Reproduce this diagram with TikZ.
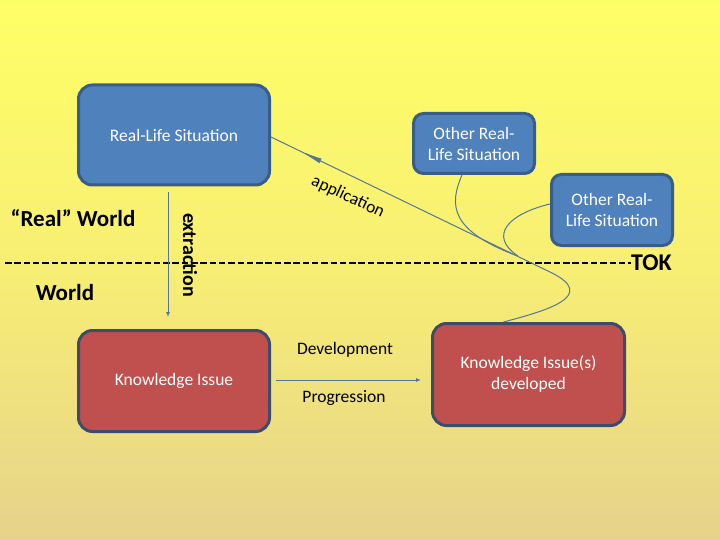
\documentclass[tikz,border=0pt]{standalone}
\usepackage{fontspec}
\setmainfont{Carlito}
\usetikzlibrary{arrows.meta,decorations.markings}
\definecolor{bgtop}{RGB}{255,255,102}
\definecolor{bgbot}{RGB}{230,210,140}
\definecolor{bluefill}{RGB}{79,129,189}
\definecolor{blueedge}{RGB}{56,93,138}
\definecolor{redfill}{RGB}{192,80,77}
\definecolor{rededge}{RGB}{62,76,108}
\definecolor{conn}{RGB}{84,118,152}
\tikzset{
  boxtext/.style={font=\fontsize{17.5}{21}\selectfont, text=white, align=center},
  bluebox/.style={boxtext, draw=blueedge, fill=bluefill, line width=3pt, rounded corners=14pt, inner sep=0pt},
  redbox/.style={boxtext, draw=rededge, fill=redfill, line width=3pt, rounded corners=14pt, inner sep=0pt},
  smallbox/.style={bluebox, rounded corners=10pt},
  label/.style={font=\fontsize{17.5}{21}\selectfont, text=black, inner sep=0pt},
  biglabel/.style={font=\bfseries\fontsize{23}{26}\selectfont, text=black, inner sep=0pt},
  connline/.style={draw=conn, line width=1pt},
  connarrow/.style={connline, -{Latex[length=5pt,width=4pt]}},
}
\begin{document}
\begin{tikzpicture}[x=1pt,y=-1pt]
\useasboundingbox (0,0) rectangle (720,540);
\shade[top color=bgtop, bottom color=bgbot, middle color={rgb,255:red,247;green,238;blue,116}] (0,0) rectangle (720,540);

% boxes
\node[bluebox, minimum width=191pt, minimum height=100pt] (rls) at (174,135) {Real-Life Situation};
\node[smallbox, minimum width=121pt, minimum height=60pt] (o1) at (474,143.5) {Other Real-\\Life Situation};
\node[smallbox, minimum width=121pt, minimum height=71pt] (o2) at (612,210) {Other Real-\\Life Situation};
\node[redbox, minimum width=191pt, minimum height=101pt] (ki) at (174,381) {Knowledge Issue};
\node[redbox, minimum width=192pt, minimum height=102pt] (kid) at (528.5,374.5) {Knowledge Issue(s)\\developed};

% dashed divider
\coordinate (dl) at (5,263);
\node[biglabel, font=\bfseries\fontsize{24}{26}\selectfont, anchor=west] (tok) at (631,263) {TOK};
\draw[black, line width=2.3pt, dash pattern=on 6.5pt off 2.8pt] (dl) -- (tok.west);

% world labels
\node[biglabel] (rw) at (73,218) {“Real” World};
\node[biglabel] (w) at (65,293) {World};

% extraction
\draw[connarrow, shorten <=6pt, shorten >=12pt] ([xshift=-6pt]rls.south) -- ([xshift=-6pt]ki.north);
\node[biglabel, font=\bfseries\fontsize{20}{24}\selectfont, rotate=-90] (ex) at (190,255) {extraction};

% development
\coordinate (devend) at (421,380);
\draw[connarrow] ([xshift=5pt]ki.east |- devend) -- (devend);
\node[label] (dev) at (345,350) {Development};
\node[label] (prog) at (344,398) {Progression};

% application
\draw[connline, postaction={decorate},
  decoration={markings, mark=at position -31pt with {\arrow[conn]{Latex[length=24pt,width=5pt]}}}]
  ([xshift=-25pt]kid.north) .. controls (545,311) and (600,296) .. (550,272) -- ([yshift=-2pt]rls.east);
\node[label, rotate=-25] (app) at (348,197) {application};

% other real-life situations merging
\draw[connline] ([xshift=-12pt]o1.south) .. controls (449,205) and (450,230) .. (515,255);
\draw[connline] ([yshift=6pt]o2.west) .. controls (508,214) and (488,236) .. (518,256);
\end{tikzpicture}
\end{document}
